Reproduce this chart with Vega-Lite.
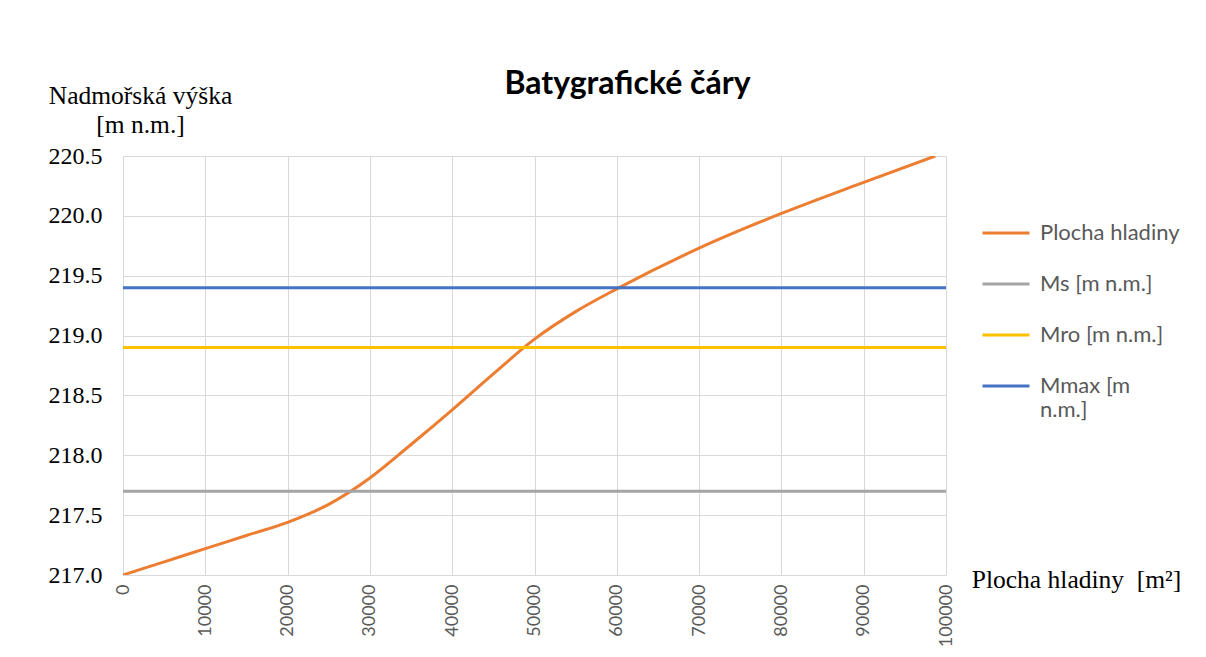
{
  "$schema": "https://vega.github.io/schema/vega-lite/v6.json",
  "autosize": {"type": "none"},
  "padding": {"left": 123, "top": 156, "right": 260, "bottom": 82},
  "width": 823,
  "height": 419,
  "background": "white",
  "title": {
    "text": "Batygrafické čáry",
    "font": "Lato",
    "fontSize": 32,
    "fontWeight": "bold",
    "color": "#000000",
    "anchor": "middle",
    "frame": "group",
    "dx": 93,
    "offset": 0,
    "dy": 43,
    "baseline": "alphabetic"
  },
  "data": {
    "values": [
      {"series": "Plocha hladiny", "x": 0, "y": 217.0},
      {"series": "Plocha hladiny", "x": 5000, "y": 217.11},
      {"series": "Plocha hladiny", "x": 10000, "y": 217.22},
      {"series": "Plocha hladiny", "x": 15000, "y": 217.33},
      {"series": "Plocha hladiny", "x": 20000, "y": 217.44},
      {"series": "Plocha hladiny", "x": 25000, "y": 217.59},
      {"series": "Plocha hladiny", "x": 30000, "y": 217.81},
      {"series": "Plocha hladiny", "x": 35000, "y": 218.09},
      {"series": "Plocha hladiny", "x": 40000, "y": 218.38},
      {"series": "Plocha hladiny", "x": 45000, "y": 218.68},
      {"series": "Plocha hladiny", "x": 50000, "y": 218.97},
      {"series": "Plocha hladiny", "x": 55000, "y": 219.2},
      {"series": "Plocha hladiny", "x": 60000, "y": 219.39},
      {"series": "Plocha hladiny", "x": 70000, "y": 219.73},
      {"series": "Plocha hladiny", "x": 80000, "y": 220.02},
      {"series": "Plocha hladiny", "x": 90000, "y": 220.28},
      {"series": "Plocha hladiny", "x": 98700, "y": 220.5},
      {"series": "Ms [m n.m.]", "x": 0, "y": 217.7},
      {"series": "Ms [m n.m.]", "x": 100000, "y": 217.7},
      {"series": "Mro [m n.m.]", "x": 0, "y": 218.9},
      {"series": "Mro [m n.m.]", "x": 100000, "y": 218.9},
      {"series": "Mmax [m n.m.]", "x": 0, "y": 219.4},
      {"series": "Mmax [m n.m.]", "x": 100000, "y": 219.4}
    ]
  },
  "mark": {"type": "line", "strokeWidth": 3, "interpolate": "monotone", "clip": true},
  "encoding": {
    "x": {
      "field": "x",
      "type": "quantitative",
      "scale": {"domain": [0, 100000], "nice": false, "zero": false},
      "axis": {
        "values": [0, 10000, 20000, 30000, 40000, 50000, 60000, 70000, 80000, 90000, 100000],
        "format": "d",
        "labelAngle": 270,
        "labelFont": "Lato",
        "labelFontSize": 18,
        "labelColor": "#595959",
        "labelPadding": 9,
        "ticks": false,
        "domain": false,
        "grid": true,
        "gridColor": "#D9D9D9",
        "gridWidth": 1,
        "labelOverlap": false,
        "title": "Plocha hladiny\u00a0 [m²]",
        "titleFont": "Liberation Serif, DejaVu Serif, serif",
        "titleFontSize": 25.5,
        "titleFontWeight": "normal",
        "titleColor": "#000000",
        "titleAngle": 0,
        "titleAlign": "center",
        "titleBaseline": "alphabetic",
        "titleX": 953,
        "titleY": 12
      }
    },
    "y": {
      "field": "y",
      "type": "quantitative",
      "scale": {"domain": [217, 220.5], "nice": false, "zero": false},
      "axis": {
        "values": [217, 217.5, 218, 218.5, 219, 219.5, 220, 220.5],
        "format": ".1f",
        "labelFont": "Liberation Serif, DejaVu Serif, serif",
        "labelFontSize": 24,
        "labelColor": "#000000",
        "labelPadding": 21,
        "ticks": false,
        "domain": false,
        "grid": true,
        "gridColor": "#D9D9D9",
        "gridWidth": 1,
        "title": ["Nadmořská výška", "[m n.m.]"],
        "titleFont": "Liberation Serif, DejaVu Serif, serif",
        "titleFontSize": 25.5,
        "titleFontWeight": "normal",
        "titleColor": "#000000",
        "titleAngle": 0,
        "titleAlign": "center",
        "titleBaseline": "alphabetic",
        "titleLineHeight": 29,
        "titleX": 17,
        "titleY": -53
      }
    },
    "color": {
      "field": "series",
      "type": "nominal",
      "scale": {
        "domain": ["Plocha hladiny", "Ms [m n.m.]", "Mro [m n.m.]", "Mmax [m n.m.]"],
        "range": ["#ED7D31", "#A5A5A5", "#FFC000", "#4472C4"]
      },
      "sort": null,
      "legend": {
        "title": null,
        "orient": "none",
        "legendX": 858,
        "legendY": 52,
        "symbolType": "stroke",
        "symbolSize": 2209,
        "symbolStrokeWidth": 3,
        "labelFont": "Lato",
        "labelFontSize": 22,
        "labelColor": "#595959",
        "labelOffset": 9,
        "labelLimit": 300,
        "rowPadding": 15,
        "labelExpr": "datum.label == 'Mmax [m n.m.]' ? ['Mmax [m', 'n.m.]'] : datum.label"
      }
    }
  },
  "config": {
    "view": {"stroke": null}
  }
}
